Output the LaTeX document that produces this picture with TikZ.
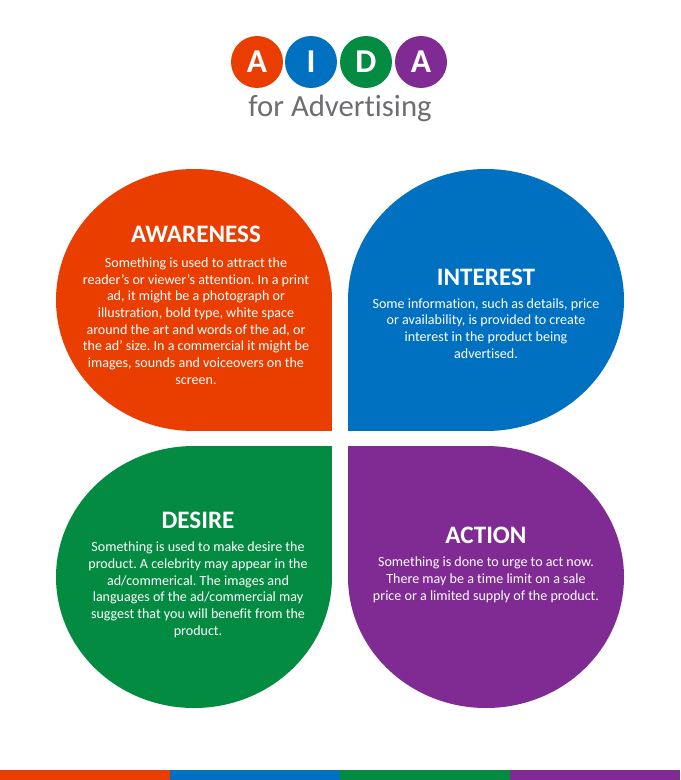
\documentclass[tikz,border=0pt]{standalone}
\usepackage{fontspec}
\setmainfont[Ligatures=NoCommon]{Carlito}
\frenchspacing
\definecolor{aidaorange}{HTML}{EA3D00}
\definecolor{aidablue}{HTML}{0070C0}
\definecolor{aidagreen}{HTML}{048B42}
\definecolor{aidapurple}{HTML}{802A94}
\definecolor{titlegrey}{HTML}{6D6E71}
\begin{document}
\begin{tikzpicture}[x=.02cm,y=-.02cm,
  badge/.style={circle,inner sep=0pt,minimum size=1.04cm,text=white,
    font=\fontsize{19}{19}\selectfont\bfseries},
  heading/.style={text=white,anchor=base,font=\fontsize{14.3}{16}\selectfont\bfseries},
  body/.style={text=white,anchor=base,align=center,inner sep=0pt,
    font=\fontsize{8}{9.47}\selectfont}]
  \useasboundingbox[fill=white] (0,0) rectangle (680,780);
  % Title: one coloured disc per letter
  \foreach \x/\col/\ltr/\nm in {257/aidaorange/A/a1,311/aidablue/I/i,
      366/aidagreen/D/d,421/aidapurple/A/a2} {
    \node[badge,fill=\col] (badge-\nm) at (\x,62) {\ltr};
  }
  \node[anchor=base,text=titlegrey,font=\fontsize{17.5}{20}\selectfont]
    (subtitle) at (340,117) {for Advertising};
  % Petals: an ellipse plus the square corner that faces the middle
  \foreach \cx/\cy/\qx/\qy/\col in {194/300/332/431/aidaorange,
      486/300/348/431/aidablue,194/577/332/446/aidagreen,
      486/577/348/446/aidapurple} {
    \fill[\col] (\cx,\cy) ellipse [x radius=138,y radius=131];
    \fill[\col] (\cx,\cy) rectangle (\qx,\qy);
  }
  % Texts (a body node sits on the baseline of its last line)
  \node[heading] (awareness) at (196,243) {AWARENESS};
  \node[body] (awareness-text) at (196,384) {Something is used to attract the\\
    reader’s or viewer’s attention. In a print\\
    ad, it might be a photograph or\\
    illustration, bold type, white space\\
    around the art and words of the ad, or\\
    the ad’ size. In a commercial it might be\\
    images, sounds and voiceovers on the\\
    screen.};
  \node[heading] (interest) at (486,285) {INTEREST};
  \node[body] (interest-text) at (486,358) {Some information, such as details, price\\
    or availability, is provided to create\\
    interest in the product being\\
    advertised.};
  \node[heading] (desire) at (198,528) {DESIRE};
  \node[body] (desire-text) at (198,635) {Something is used to make desire the\\
    product. A celebrity may appear in the\\
    ad/commerical. The images and\\
    languages of the ad/commercial may\\
    suggest that you will benefit from the\\
    product.};
  \node[heading] (action) at (486,543) {ACTION};
  \node[body] (action-text) at (486,600) {Something is done to urge to act now.\\
    There may be a time limit on a sale\\
    price or a limited supply of the product.};
  % Coloured strip along the bottom edge
  \foreach \i/\col in {0/aidaorange,1/aidablue,2/aidagreen,3/aidapurple} {
    \fill[\col] (170*\i,770) rectangle (170*\i+170,780);
  }
\end{tikzpicture}
\end{document}
